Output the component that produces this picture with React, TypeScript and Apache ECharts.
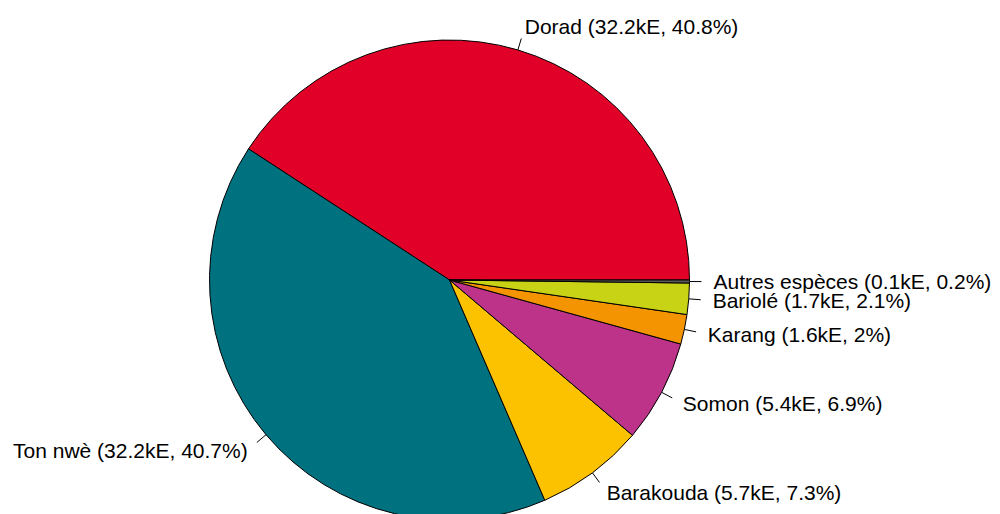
import React, { useEffect, useRef } from "react";
import * as echarts from "echarts";

const categories = ["Dorad", "Ton nwè", "Barakouda", "Somon", "Karang", "Bariolé", "Autres espèces"];
const valuesKE = [32.2, 32.2, 5.7, 5.4, 1.6, 1.7, 0.1];
const percents = [40.8, 40.7, 7.3, 6.9, 2, 2.1, 0.2];
const colors = ["#E10027", "#00717F", "#FCC200", "#BC3389", "#F39400", "#C9D316", "#5A5A5A"];

export default function App() {
  const ref = useRef<HTMLDivElement>(null);
  useEffect(() => {
    document.body.style.margin = "0";
    const chart = echarts.init(ref.current!, null, { renderer: "svg" });
    const data = categories.map((name, i) => ({
      name,
      value: percents[i],
      itemStyle: { color: colors[i] },
    }));
    chart.setOption({
      animation: false,
      backgroundColor: "#ffffff",
      series: [
        {
          type: "pie",
          center: [449.5, 280],
          radius: [0, 240],
          startAngle: 0,
          clockwise: false,
          avoidLabelOverlap: false,
          minAngle: 0,
          data,
          itemStyle: { borderColor: "#000000", borderWidth: 1 },
          emphasis: { disabled: true },
          label: {
            show: true,
            position: "outside",
            color: "#000000",
            fontFamily: "Liberation Sans, Arial, sans-serif",
            fontSize: 21,
            lineHeight: 18,
            distanceToLabelLine: 0,
            formatter: (p: any) => `${categories[p.dataIndex]} (${valuesKE[p.dataIndex]}kE, ${percents[p.dataIndex]}%)`,
          },
          labelLine: {
            show: true,
            length: 12,
            length2: 0,
            smooth: false,
            lineStyle: { color: "#000000", width: 1 },
          },
          labelLayout: (params: any) => {
            const pts = params.labelLinePoints;
            if (!pts || pts.length < 2) return {};
            const p0 = pts[0];
            const p1 = pts[1];
            const x = p0[0] + 2 * (p1[0] - p0[0]);
            const y = p0[1] + 2 * (p1[1] - p0[1]);
            return {
              x,
              y,
              align: x >= 449.5 ? "left" : "right",
              verticalAlign: "middle",
              labelLinePoints: [p0, p1, p1],
            };
          },
        },
      ],
    });
    return () => chart.dispose();
  }, []);
  return <div ref={ref} style={{ width: 1000, height: 514 }} />;
}
